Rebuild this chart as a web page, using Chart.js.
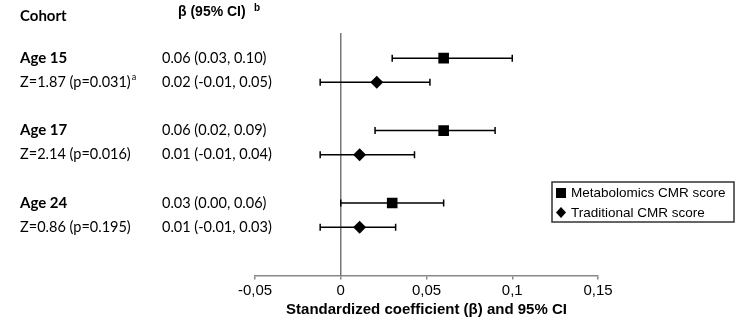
<!DOCTYPE html>
<html lang="en">
  <head>
    <meta charset="UTF-8" />
    <title>Forest plot</title>
    <style>
      body {
        margin: 0;
        background: #ffffff;
      }
      #wrap {
        width: 744px;
        height: 335px;
      }
    </style>
    <script src="https://cdn.jsdelivr.net/npm/chart.js"></script>
  </head>
  <body>
    <div id="wrap"><canvas id="chart"></canvas></div>
    <script>
      // cohort rows
      const cohorts = ["Age 15", "Age 17", "Age 24"];
      const zStats = ["Z=1.87 (p=0.031)", "Z=2.14 (p=0.016)", "Z=0.86 (p=0.195)"];
      const zNotes = ["a", "", ""];

      // metabolomics CMR score
      const metabBeta = [0.06, 0.06, 0.03];
      const metabLow = [0.03, 0.02, 0.0];
      const metabHigh = [0.1, 0.09, 0.06];
      const metabText = ["0.06 (0.03, 0.10)", "0.06 (0.02, 0.09)", "0.03 (0.00, 0.06)"];

      // traditional CMR score
      const tradBeta = [0.021, 0.011, 0.011];
      const tradLow = [-0.012, -0.012, -0.012];
      const tradHigh = [0.052, 0.043, 0.032];
      const tradText = ["0.02 (-0.01, 0.05)", "0.01 (-0.01, 0.04)", "0.01 (-0.01, 0.03)"];

      // row slots on the y axis (gap between cohorts)
      const metabRows = [0, 3, 6];
      const tradRows = [1, 4, 7];

      const xTicks = [-0.05, 0, 0.05, 0.1, 0.15];
      const seriesNames = ["Metabolomics CMR score", "Traditional CMR score"];

      const leftFont = "Lato, 'Open Sans', sans-serif";
      const axisFont = "'Liberation Sans', Arial, sans-serif";

      function fmtTick(v) {
        return String(Number(v.toFixed(2))).replace(".", ",");
      }

      const errorBars = {
        id: "errorBars",
        beforeDatasetsDraw(chart) {
          const { ctx, scales } = chart;
          const x = scales.x;
          const y = scales.y;
          ctx.save();
          ctx.strokeStyle = "#000";
          ctx.lineWidth = 1.5;
          chart.data.datasets.forEach((ds) => {
            ds.data.forEach((p) => {
              const py = y.getPixelForValue(p.y);
              const x1 = x.getPixelForValue(p.lo);
              const x2 = x.getPixelForValue(p.hi);
              ctx.beginPath();
              ctx.moveTo(x1, py);
              ctx.lineTo(x2, py);
              ctx.moveTo(x1, py - 3.5);
              ctx.lineTo(x1, py + 3.5);
              ctx.moveTo(x2, py - 3.5);
              ctx.lineTo(x2, py + 3.5);
              ctx.stroke();
            });
          });
          ctx.restore();
        },
      };

      const sideText = {
        id: "sideText",
        afterDraw(chart) {
          const { ctx, scales } = chart;
          const y = scales.y;
          ctx.save();
          ctx.fillStyle = "#000";
          ctx.textBaseline = "middle";
          ctx.textAlign = "left";

          ctx.font = "bold 15px " + leftFont;
          ctx.fillText("Cohort", 20, 16);
          ctx.font = "bold 14px " + axisFont;
          ctx.fillText("\u03b2 (95% CI)", 178, 12);
          ctx.font = "bold 10px " + axisFont;
          ctx.fillText("b", 254, 8);

          cohorts.forEach((c, i) => {
            const y1 = y.getPixelForValue(metabRows[i]);
            const y2 = y.getPixelForValue(tradRows[i]);
            ctx.font = "bold 15px " + leftFont;
            ctx.fillText(c, 20, y1);
            ctx.font = "14.5px " + leftFont;
            ctx.fillText(zStats[i], 20, y2);
            if (zNotes[i]) {
              const w = ctx.measureText(zStats[i]).width;
              ctx.font = "9px " + leftFont;
              ctx.fillText(zNotes[i], 21 + w, y2 - 5);
            }
            ctx.font = "14.5px " + leftFont;
            ctx.fillText(metabText[i], 162, y1);
            ctx.fillText(tradText[i], 162, y2);
          });

          // legend box
          ctx.strokeStyle = "#333";
          ctx.lineWidth = 1.5;
          ctx.strokeRect(552, 182, 182, 40);
          ctx.font = "13.5px " + axisFont;
          ctx.fillRect(556, 188, 10, 10);
          ctx.fillText(seriesNames[0], 571, 193);
          ctx.beginPath();
          ctx.moveTo(561, 207);
          ctx.lineTo(566, 212.5);
          ctx.lineTo(561, 218);
          ctx.lineTo(556, 212.5);
          ctx.closePath();
          ctx.fill();
          ctx.fillText(seriesNames[1], 571, 213);
          ctx.restore();
        },
      };

      new Chart(document.getElementById("chart"), {
        type: "scatter",
        data: {
          datasets: [
            {
              label: seriesNames[0],
              data: metabBeta.map((b, i) => ({ x: b, y: metabRows[i], lo: metabLow[i], hi: metabHigh[i] })),
              pointStyle: "rect",
              pointRadius: 7.5,
              backgroundColor: "#000",
              borderColor: "#000",
              borderWidth: 0,
            },
            {
              label: seriesNames[1],
              data: tradBeta.map((b, i) => ({ x: b, y: tradRows[i], lo: tradLow[i], hi: tradHigh[i] })),
              pointStyle: "rectRot",
              pointRadius: 6.5,
              backgroundColor: "#000",
              borderColor: "#000",
              borderWidth: 0,
            },
          ],
        },
        options: {
          responsive: true,
          maintainAspectRatio: false,
          animation: false,
          layout: {
            padding: { left: 255, right: 146, top: 34, bottom: 13.5 },
          },
          plugins: {
            legend: { display: false },
            tooltip: { enabled: false },
          },
          scales: {
            x: {
              type: "linear",
              min: xTicks[0],
              max: xTicks[xTicks.length - 1],
              afterBuildTicks(scale) {
                scale.ticks = xTicks.map((v) => ({ value: v }));
              },
              ticks: {
                callback: (v) => fmtTick(v),
                font: { family: axisFont, size: 15, lineHeight: 1 },
                color: "#000",
                padding: 4,
                maxRotation: 0,
              },
              grid: {
                drawOnChartArea: false,
                tickLength: 4,
                color: "#888",
                lineWidth: 1.5,
              },
              border: { color: "#888", width: 1.5 },
              title: {
                display: true,
                text: "Standardized coefficient (\u03b2) and 95% CI",
                font: { family: axisFont, size: 15, weight: "bold", lineHeight: 1 },
                color: "#000",
                padding: { top: 0, bottom: 4 },
              },
            },
            y: {
              type: "linear",
              min: -1,
              max: 9,
              reverse: true,
              position: { x: 0 },
              ticks: { display: false },
              grid: { display: false },
              border: { color: "#777", width: 1.5 },
            },
          },
        },
        plugins: [errorBars, sideText],
      });
    </script>
  </body>
</html>
